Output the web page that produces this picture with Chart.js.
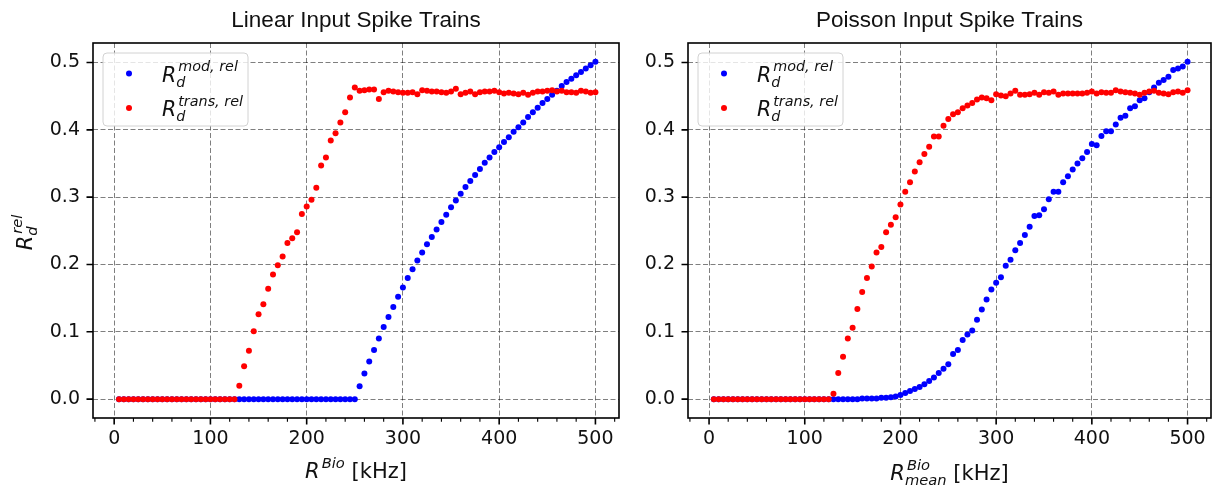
<!DOCTYPE html>
<html>
<head>
<meta charset="utf-8">
<script src="https://cdn.jsdelivr.net/npm/chart.js@4.4.1/dist/chart.umd.min.js"></script>
<style>
  html, body { margin: 0; padding: 0; background: #fff; }
  #wrap { position: relative; width: 1219px; height: 487px; }
  canvas { position: absolute; left: 0; top: 0; }
</style>
</head>
<body>
<div id="wrap">
  <canvas id="linChart" width="1219" height="487"></canvas>
  <canvas id="poisChart" width="1219" height="487"></canvas>
</div>
<script>
// ================= DATA =================
const xValues = [
  5, 10, 15, 20, 25, 30, 35, 40, 45, 50,
  55, 60, 65, 70, 75, 80, 85, 90, 95, 100,
  105, 110, 115, 120, 125, 130, 135, 140, 145, 150,
  155, 160, 165, 170, 175, 180, 185, 190, 195, 200,
  205, 210, 215, 220, 225, 230, 235, 240, 245, 250,
  255, 260, 265, 270, 275, 280, 285, 290, 295, 300,
  305, 310, 315, 320, 325, 330, 335, 340, 345, 350,
  355, 360, 365, 370, 375, 380, 385, 390, 395, 400,
  405, 410, 415, 420, 425, 430, 435, 440, 445, 450,
  455, 460, 465, 470, 475, 480, 485, 490, 495, 500
];

const xTickValues = [0, 100, 200, 300, 400, 500];
const xMinorTickValues = [-20, 20, 40, 60, 80, 120, 140, 160, 180, 220, 240, 260, 280,
                          320, 340, 360, 380, 420, 440, 460, 480, 520];
const yTickValues = [0.0, 0.1, 0.2, 0.3, 0.4, 0.5];

// Linear input spike trains
const linearMod = [
  0, 0, 0, 0, 0, 0, 0, 0, 0, 0,
  0, 0, 0, 0, 0, 0, 0, 0, 0, 0,
  0, 0, 0, 0, 0, 0, 0, 0, 0, 0,
  0, 0, 0, 0, 0, 0, 0, 0, 0, 0,
  0, 0, 0, 0, 0, 0, 0, 0, 0, 0,
  0.019, 0.038, 0.056, 0.073, 0.090, 0.107, 0.122, 0.137, 0.152, 0.166,
  0.180, 0.193, 0.206, 0.218, 0.230, 0.241, 0.252, 0.263, 0.274, 0.285,
  0.295, 0.305, 0.315, 0.324, 0.333, 0.342, 0.351, 0.359, 0.367, 0.374,
  0.382, 0.389, 0.397, 0.404, 0.411, 0.419, 0.426, 0.433, 0.440, 0.446,
  0.452, 0.458, 0.465, 0.471, 0.476, 0.481, 0.486, 0.491, 0.496, 0.501
];
const linearTrans = [
  0, 0, 0, 0, 0, 0, 0, 0, 0, 0,
  0, 0, 0, 0, 0, 0, 0, 0, 0, 0,
  0, 0, 0, 0, 0, 0.020, 0.049, 0.072, 0.101, 0.126,
  0.141, 0.164, 0.185, 0.199, 0.212, 0.232, 0.239, 0.248, 0.275, 0.286,
  0.296, 0.314, 0.347, 0.359, 0.384, 0.395, 0.411, 0.426, 0.448, 0.463,
  0.458, 0.459, 0.460, 0.460, 0.446, 0.456, 0.458, 0.457, 0.456, 0.455,
  0.455, 0.456, 0.453, 0.459, 0.458, 0.457, 0.457, 0.456, 0.455, 0.457,
  0.461, 0.453, 0.455, 0.457, 0.453, 0.456, 0.457, 0.457, 0.458, 0.456,
  0.454, 0.455, 0.454, 0.453, 0.455, 0.452, 0.455, 0.457, 0.457, 0.458,
  0.459, 0.457, 0.458, 0.456, 0.456, 0.455, 0.458, 0.457, 0.455, 0.456
];

// Poisson input spike trains
const poissonMod = [
  0, 0, 0, 0, 0, 0, 0, 0, 0, 0,
  0, 0, 0, 0, 0, 0, 0, 0, 0, 0,
  0, 0, 0, 0, 0, 0, 0, 0, 0, 0,
  0, 0.001, 0.001, 0.001, 0.001, 0.002, 0.002, 0.003, 0.004, 0.006,
  0.009, 0.012, 0.015, 0.018, 0.022, 0.027, 0.032, 0.039, 0.045, 0.052,
  0.067, 0.073, 0.088, 0.096, 0.102, 0.118, 0.133, 0.148, 0.163, 0.173,
  0.181, 0.198, 0.207, 0.221, 0.232, 0.244, 0.256, 0.272, 0.273, 0.282,
  0.297, 0.308, 0.308, 0.322, 0.331, 0.341, 0.350, 0.358, 0.367, 0.379,
  0.377, 0.391, 0.398, 0.398, 0.408, 0.418, 0.421, 0.432, 0.435, 0.444,
  0.447, 0.456, 0.463, 0.470, 0.474, 0.479, 0.489, 0.491, 0.494, 0.501
];
const poissonTrans = [
  0, 0, 0, 0, 0, 0, 0, 0, 0, 0,
  0, 0, 0, 0, 0, 0, 0, 0, 0, 0,
  0, 0, 0, 0, 0, 0.008, 0.039, 0.063, 0.090, 0.106,
  0.134, 0.159, 0.180, 0.197, 0.218, 0.226, 0.248, 0.259, 0.270, 0.289,
  0.308, 0.322, 0.338, 0.352, 0.364, 0.375, 0.390, 0.390, 0.406, 0.416,
  0.423, 0.426, 0.432, 0.436, 0.440, 0.445, 0.448, 0.447, 0.444, 0.453,
  0.451, 0.450, 0.454, 0.458, 0.452, 0.452, 0.453, 0.455, 0.452, 0.456,
  0.455, 0.457, 0.452, 0.454, 0.454, 0.454, 0.454, 0.454, 0.455, 0.457,
  0.454, 0.456, 0.455, 0.455, 0.459, 0.457, 0.456, 0.455, 0.454, 0.452,
  0.455, 0.457, 0.458, 0.455, 0.454, 0.453, 0.456, 0.457, 0.455, 0.459
];

// ================= MATH TEXT =================
const MATH_FONT = '"DejaVu Sans"';

function mathWidth(ctx, sup, sub, size) {
  ctx.font = `italic ${size}px ${MATH_FONT}`;
  const w = ctx.measureText('R').width;
  ctx.font = `italic ${size * 0.7}px ${MATH_FONT}`;
  let tail = 0;
  if (sup) tail = Math.max(tail, ctx.measureText(sup).width + 2);
  if (sub) tail = Math.max(tail, ctx.measureText(sub).width);
  return w + tail;
}

// draws R with super/subscript, returns width
function drawMath(ctx, x, base, sup, sub, size) {
  ctx.textAlign = 'left';
  ctx.textBaseline = 'alphabetic';
  ctx.font = `italic ${size}px ${MATH_FONT}`;
  ctx.fillText('R', x, base);
  const w = ctx.measureText('R').width;
  ctx.font = `italic ${size * 0.7}px ${MATH_FONT}`;
  if (sup) ctx.fillText(sup, x + w + 2, base - size * 0.5);
  if (sub) ctx.fillText(sub, x + w, base + size * 0.25);
  return mathWidth(ctx, sup, sub, size);
}

// ================= PLUGIN =================
const framePlugin = {
  id: 'frame',
  afterDraw(chart, args, opts) {
    const { ctx, chartArea: a, scales: { x, y } } = chart;
    ctx.save();

    // spines
    ctx.strokeStyle = '#000';
    ctx.lineWidth = 1.6;
    ctx.strokeRect(a.left, a.top, a.right - a.left, a.bottom - a.top);

    // major ticks
    ctx.beginPath();
    xTickValues.forEach(v => {
      const px = x.getPixelForValue(v);
      ctx.moveTo(px, a.bottom);
      ctx.lineTo(px, a.bottom + 6.5);
    });
    yTickValues.forEach(v => {
      const py = y.getPixelForValue(v);
      ctx.moveTo(a.left - 6.5, py);
      ctx.lineTo(a.left, py);
    });
    ctx.stroke();

    // minor ticks
    ctx.lineWidth = 1.1;
    ctx.beginPath();
    xMinorTickValues.forEach(v => {
      const px = x.getPixelForValue(v);
      ctx.moveTo(px, a.bottom);
      ctx.lineTo(px, a.bottom + 3.8);
    });
    ctx.stroke();

    const cx = (a.left + a.right) / 2;

    // title
    ctx.fillStyle = '#111';
    ctx.font = '22.5px "Liberation Sans"';
    ctx.textAlign = 'center';
    ctx.textBaseline = 'alphabetic';
    ctx.fillText(opts.title, cx, 27);

    // x label
    const xl = opts.xLabel;
    ctx.font = `21px ${MATH_FONT}`;
    const unitW = ctx.measureText(' [kHz]').width;
    const mw = mathWidth(ctx, xl.sup, xl.sub, 21);
    let sx = cx - (mw + unitW) / 2;
    drawMath(ctx, sx, xl.base, xl.sup, xl.sub, 21);
    ctx.font = `21px ${MATH_FONT}`;
    ctx.fillText(' [kHz]', sx + mw, xl.base);

    // y label
    if (opts.yLabel) {
      const yw = mathWidth(ctx, 'rel', 'd', 21);
      ctx.save();
      ctx.translate(32, (a.top + a.bottom) / 2 + 2);
      ctx.rotate(-Math.PI / 2);
      drawMath(ctx, -yw / 2, 0, 'rel', 'd', 21);
      ctx.restore();
    }

    // legend
    const bx = a.left + 10, by = a.top + 10, bw = 145, bh = 73;
    ctx.beginPath();
    ctx.roundRect(bx, by, bw, bh, 4);
    ctx.fillStyle = 'rgba(255,255,255,0.8)';
    ctx.fill();
    ctx.strokeStyle = '#d2d2d2';
    ctx.lineWidth = 1;
    ctx.stroke();
    chart.data.datasets.forEach((ds, i) => {
      const my = a.top + 30.6 + i * 34.4;
      ctx.beginPath();
      ctx.arc(a.left + 36, my, 3, 0, Math.PI * 2);
      ctx.fillStyle = ds.backgroundColor;
      ctx.fill();
      ctx.fillStyle = '#111';
      drawMath(ctx, a.left + 69, my + 8, ds.legendSup, 'd', 20.5);
    });

    ctx.restore();
  }
};

// ================= CHARTS =================
function makeChart(id, modData, transData, area, frameOpts) {
  const toPoints = arr => xValues.map((v, i) => ({ x: v, y: arr[i] }));
  return new Chart(document.getElementById(id), {
    type: 'scatter',
    data: {
      datasets: [
        {
          label: 'mod',
          legendSup: 'mod, rel',
          data: toPoints(modData),
          backgroundColor: '#0000ff',
          borderWidth: 0,
          pointRadius: 3,
          order: 1
        },
        {
          label: 'trans',
          legendSup: 'trans, rel',
          data: toPoints(transData),
          backgroundColor: '#ff0000',
          borderWidth: 0,
          pointRadius: 3,
          order: 0
        }
      ]
    },
    options: {
      responsive: false,
      animation: false,
      devicePixelRatio: 1,
      events: [],
      layout: { padding: { left: 0, top: 43, right: 1219 - area.right, bottom: 0 } },
      plugins: {
        legend: { display: false },
        title: { display: false },
        tooltip: { enabled: false },
        frame: frameOpts
      },
      scales: {
        x: {
          type: 'linear',
          min: -22,
          max: 524.5,
          afterBuildTicks: s => { s.ticks = xTickValues.map(v => ({ value: v })); },
          afterFit: s => { s.height = 69; s.paddingLeft = 0; s.paddingRight = 0; },
          ticks: {
            font: { family: 'DejaVu Sans', size: 19 },
            color: '#111',
            padding: 10,
            maxRotation: 0,
            autoSkip: false
          },
          grid: { color: 'rgba(0,0,0,0.5)', lineWidth: 1, drawTicks: false },
          border: { display: false, dash: [5, 2.5] }
        },
        y: {
          type: 'linear',
          min: -0.028,
          max: 0.529,
          afterBuildTicks: s => { s.ticks = yTickValues.map(v => ({ value: v })); },
          afterFit: s => { s.width = area.left; s.paddingTop = 0; s.paddingBottom = 0; },
          ticks: {
            font: { family: 'DejaVu Sans', size: 19 },
            color: '#111',
            padding: 13,
            callback: v => v.toFixed(1)
          },
          grid: { color: 'rgba(0,0,0,0.5)', lineWidth: 1, drawTicks: false },
          border: { display: false, dash: [5, 2.5] }
        }
      }
    },
    plugins: [framePlugin]
  });
}

makeChart('linChart', linearMod, linearTrans, { left: 93, right: 619 }, {
  title: 'Linear Input Spike Trains',
  xLabel: { sup: 'Bio', sub: null, base: 478 },
  yLabel: true
});

makeChart('poisChart', poissonMod, poissonTrans, { left: 688, right: 1211 }, {
  title: 'Poisson Input Spike Trains',
  xLabel: { sup: 'Bio', sub: 'mean', base: 480 },
  yLabel: false
});
</script>
</body>
</html>
